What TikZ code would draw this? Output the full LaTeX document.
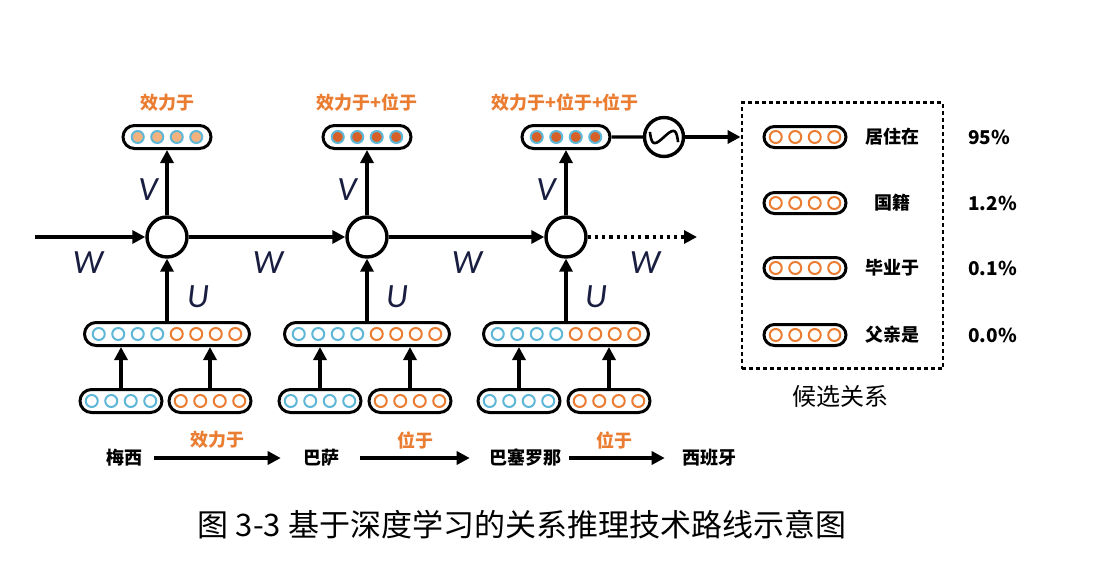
\documentclass[tikz,border=0pt]{standalone}
\usepackage{fontspec}
\setmainfont{Carlito}
\newfontfamily\cjk{Noto Sans CJK SC}
\usetikzlibrary{arrows.meta,shapes.misc,calc}

\definecolor{relorange}{RGB}{234,125,50}
\definecolor{ringblue}{RGB}{95,183,216}
\definecolor{fillpeach}{RGB}{243,178,125}
\definecolor{filldark}{RGB}{214,96,40}
\definecolor{letterblue}{RGB}{25,30,65}

\newcommand{\ringrow}[4]{%
  \foreach \k in {#2,...,#3}
    \draw[#4] ($(#1)+({(\k-0.5)*19.5},0)$) circle[radius=6];}

\begin{document}
\begin{tikzpicture}[x=0.5pt, y=-0.5pt, line width=1.6pt,
  >={Triangle[length=6.5pt,width=6.5pt]},
  vecbox/.style={draw, rounded rectangle, line width=1.5pt, minimum height=11.5pt, inner sep=0pt},
  cell/.style={draw, circle, line width=1.7pt, minimum size=20pt, inner sep=0pt},
  rel/.style={font=\cjk\bfseries\fontsize{9}{11}\selectfont, text=relorange},
  ent/.style={font=\cjk\bfseries\fontsize{9}{11}\selectfont},
  wt/.style={font=\itshape\fontsize{17}{19}\selectfont, text=letterblue},
  bluering/.style={draw=ringblue, line width=1pt},
  orangering/.style={draw=relorange, line width=1pt}]

  \useasboundingbox (0,0) rectangle (1110,578);

  \node[rel] (lab1) at (167,103) {效力于};
  \node[rel] (lab2) at (367,103) {效力于+位于};
  \node[rel] (lab3) at (565,103) {效力于+位于+位于};

  \node[vecbox, minimum width=44pt] (out1) at (167,137) {};
  \ringrow{out1}{-1}{2}{draw=ringblue, line width=1pt, fill=fillpeach}
  \node[vecbox, minimum width=44pt] (out2) at (367,137) {};
  \ringrow{out2}{-1}{2}{draw=ringblue, line width=1pt, fill=filldark}
  \node[vecbox, minimum width=44pt] (out3) at (566,137) {};
  \ringrow{out3}{-1}{2}{draw=ringblue, line width=1pt, fill=filldark}

  \node[cell] (c1) at (167,237) {};
  \node[cell] (c2) at (367,237) {};
  \node[cell] (c3) at (566,237) {};
  \coordinate (win) at (35,237);
  \coordinate (wout) at (697,237);

  \draw[->] (win) -- (c1);
  \draw[->] (c1) -- (c2);
  \draw[->] (c2) -- (c3);
  \draw[->, dash pattern=on 1.6pt off 2pt] (c3) -- (wout);

  \draw[->] (c1) -- (out1);
  \draw[->] (c2) -- (out2);
  \draw[->] (c3) -- (out3);

  \node[wt] (v1) at (148,190) {V};
  \node[wt] (v2) at (347,190) {V};
  \node[wt] (v3) at (546,190) {V};
  \node[wt] (w1) at (88,263) {W};
  \node[wt] (w2) at (268,263) {W};
  \node[wt] (w3) at (467,263) {W};
  \node[wt] (w4) at (645,263) {W};
  \node[wt] (u1) at (198,297) {U};
  \node[wt] (u2) at (397,297) {U};
  \node[wt] (u3) at (596,297) {U};

  \node[vecbox, minimum width=82.5pt] (cat1) at (167,334) {};
  \ringrow{cat1}{-3}{0}{bluering}
  \ringrow{cat1}{1}{4}{orangering}
  \node[vecbox, minimum width=82.5pt] (cat2) at (367,334) {};
  \ringrow{cat2}{-3}{0}{bluering}
  \ringrow{cat2}{1}{4}{orangering}
  \node[vecbox, minimum width=82.5pt] (cat3) at (566,334) {};
  \ringrow{cat3}{-3}{0}{bluering}
  \ringrow{cat3}{1}{4}{orangering}

  \draw[->] (cat1) -- (c1);
  \draw[->] (cat2) -- (c2);
  \draw[->] (cat3) -- (c3);

  \node[vecbox, minimum width=41pt] (ea1) at (121,401) {};
  \ringrow{ea1}{-1}{2}{bluering}
  \node[vecbox, minimum width=41pt] (eb1) at (210,401) {};
  \ringrow{eb1}{-1}{2}{orangering}
  \node[vecbox, minimum width=41pt] (ea2) at (320,401) {};
  \ringrow{ea2}{-1}{2}{bluering}
  \node[vecbox, minimum width=41pt] (eb2) at (410,401) {};
  \ringrow{eb2}{-1}{2}{orangering}
  \node[vecbox, minimum width=41pt] (ea3) at (519,401) {};
  \ringrow{ea3}{-1}{2}{bluering}
  \node[vecbox, minimum width=41pt] (eb3) at (609,401) {};
  \ringrow{eb3}{-1}{2}{orangering}

  \draw[->] (ea1) -- (ea1 |- cat1.south);
  \draw[->] (eb1) -- (eb1 |- cat1.south);
  \draw[->] (ea2) -- (ea2 |- cat2.south);
  \draw[->] (eb2) -- (eb2 |- cat2.south);
  \draw[->] (ea3) -- (ea3 |- cat3.south);
  \draw[->] (eb3) -- (eb3 |- cat3.south);

  \node[cell, minimum size=19.5pt] (sig) at (664,137) {};
  \draw[line width=1.3pt, shift={(sig)}, rotate=-20] plot[domain=-15:15, samples=40, smooth] (\x, {-9*sin(\x*180/15)});
  \draw (out3) -- (sig);

  \node[draw, dash pattern=on 2pt off 1.5pt, line width=1.4pt, minimum width=100.5pt,
        minimum height=133pt, inner sep=0pt] (cand) at (842.5,235.5) {};
  \draw[->] (sig) -- (sig -| cand.west);

  \node[vecbox, minimum width=41pt, minimum height=10.5pt] (r1) at (805,137) {};
  \ringrow{r1}{-1}{2}{orangering}
  \node[vecbox, minimum width=41pt, minimum height=10.5pt] (r2) at (805,203) {};
  \ringrow{r2}{-1}{2}{orangering}
  \node[vecbox, minimum width=41pt, minimum height=10.5pt] (r3) at (805,268) {};
  \ringrow{r3}{-1}{2}{orangering}
  \node[vecbox, minimum width=41pt, minimum height=10.5pt] (r4) at (805,335) {};
  \ringrow{r4}{-1}{2}{orangering}

  \node[ent] (n1) at (892,137) {居住在};
  \node[ent] (n2) at (892,203) {国籍};
  \node[ent] (n3) at (892,268) {毕业于};
  \node[ent] (n4) at (892,335) {父亲是};

  \node[ent, anchor=west, font=\cjk\bfseries\fontsize{9.5}{11}\selectfont] (p1) at (960,137) {95\%};
  \node[ent, anchor=west, font=\cjk\bfseries\fontsize{9.5}{11}\selectfont] (p2) at (960,203) {1.2\%};
  \node[ent, anchor=west, font=\cjk\bfseries\fontsize{9.5}{11}\selectfont] (p3) at (960,268) {0.1\%};
  \node[ent, anchor=west, font=\cjk\bfseries\fontsize{9.5}{11}\selectfont] (p4) at (960,335) {0.0\%};

  \node[font=\cjk\fontsize{12}{14}\selectfont] (candlab) at (840,396) {候选关系};

  \node[ent] (m1) at (124,458) {梅西};
  \node[ent] (m2) at (321,458) {巴萨};
  \node[ent] (m3) at (525,458) {巴塞罗那};
  \node[ent] (m4) at (709,458) {西班牙};

  \draw[->, shorten <=2pt, shorten >=7pt] (m1) -- (m2);
  \draw[->, shorten <=6.5pt, shorten >=5.5pt] (m2) -- (m3);
  \draw[->, shorten <=0pt, shorten >=4.5pt] (m3) -- (m4);

  \node[rel] (e1) at (217,440) {效力于};
  \node[rel] (e2) at (415,440) {位于};
  \node[rel] (e3) at (614,440) {位于};

  \node[font=\cjk\fontsize{15.5}{17}\selectfont] (cap) at (522,525) {图 3-3 基于深度学习的关系推理技术路线示意图};
\end{tikzpicture}
\end{document}
